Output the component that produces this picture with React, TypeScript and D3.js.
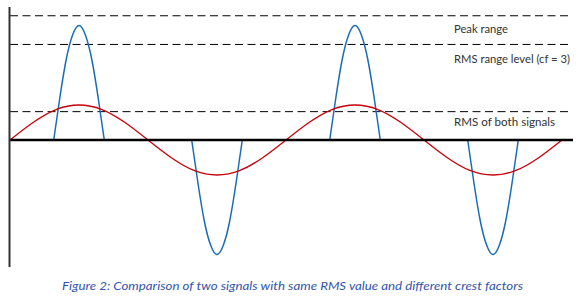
import React from "react";
import * as d3 from "d3";

// Red sine signal (phase in degrees, value in units)
const redPhase = [0, 30, 60, 90, 120, 150, 180, 210, 240, 270, 300, 330, 360, 390, 420, 450, 480, 510, 540, 570, 600, 630, 660, 690, 720];
const redValue = [0, 0.5, 0.87, 1, 0.87, 0.5, 0, -0.5, -0.87, -1, -0.87, -0.5, 0, 0.5, 0.87, 1, 0.87, 0.5, 0, -0.5, -0.87, -1, -0.87, -0.5, 0];

// Blue pulse signal
const pulseCenters = [90, 270, 450, 630];
const pulseSigns = [1, -1, 1, -1];
const pulseOffsets = [-33, -24.75, -16.5, -8.25, 0, 8.25, 16.5, 24.75, 33];
const pulseShape = [0, 0.38, 0.71, 0.92, 1, 0.92, 0.71, 0.38, 0];
const pulseAmp = 3.27;

// Reference levels
const levelValues = [3.55, 2.73, 0.81];
const levelLabels = ["Peak range", "RMS range level (cf = 3)", "RMS of both signals"];
const labelWidths = [54, 116, 101];

const caption = "Figure 2: Comparison of two signals with same RMS value and different crest factors";

export default function App() {
  const W = 584, H = 303;
  const x = d3.scaleLinear().domain([0, 720]).range([10, 562]);
  const y = d3.scaleLinear().domain([-3.8, 3.8]).range([273, 7]);
  const line = d3.line<[number, number]>().x(d => x(d[0])).y(d => y(d[1])).curve(d3.curveNatural);

  const redPts: [number, number][] = redPhase.map((p, i) => [p, redValue[i]]);
  const pulses = pulseCenters.map((c, k) =>
    pulseOffsets.map((o, i) => [c + o, pulseSigns[k] * pulseAmp * pulseShape[i]] as [number, number])
  );

  const xAxisEnd = 573;
  const font = "Lato, 'Open Sans', sans-serif";

  return (
    <svg width={W} height={H} style={{ position: "absolute", left: 0, top: 0, background: "#fff" }}>
      {levelValues.map((v, i) => (
        <line key={i} x1={x(0)} x2={570} y1={y(v)} y2={y(v)} stroke="#000" strokeWidth={1} strokeDasharray="8,4.5" />
      ))}
      {levelLabels.map((t, i) => (
        <text key={i} x={454} y={y(levelValues[i]) + [17.5, 19, 14.5][i]} fontFamily={font} fontSize={10.5}
          fill="#333" textLength={labelWidths[i]} lengthAdjust="spacingAndGlyphs">{t}</text>
      ))}
      {pulses.map((p, k) => (
        <path key={k} d={line(p) || ""} fill="none" stroke="#1a6db5" strokeWidth={1.5} />
      ))}
      <path d={line(redPts) || ""} fill="none" stroke="#c8000a" strokeWidth={1.3} />
      <line x1={x(0) - 1} x2={xAxisEnd} y1={y(0)} y2={y(0)} stroke="#000" strokeWidth={2.5} />
      <line x1={9.5} x2={9.5} y1={7} y2={267} stroke="#333" strokeWidth={2} />
      <text x={62} y={290} fontFamily={font} fontStyle="italic" fontSize={11} fill="#3355aa"
        textLength={461} lengthAdjust="spacingAndGlyphs">{caption}</text>
    </svg>
  );
}
